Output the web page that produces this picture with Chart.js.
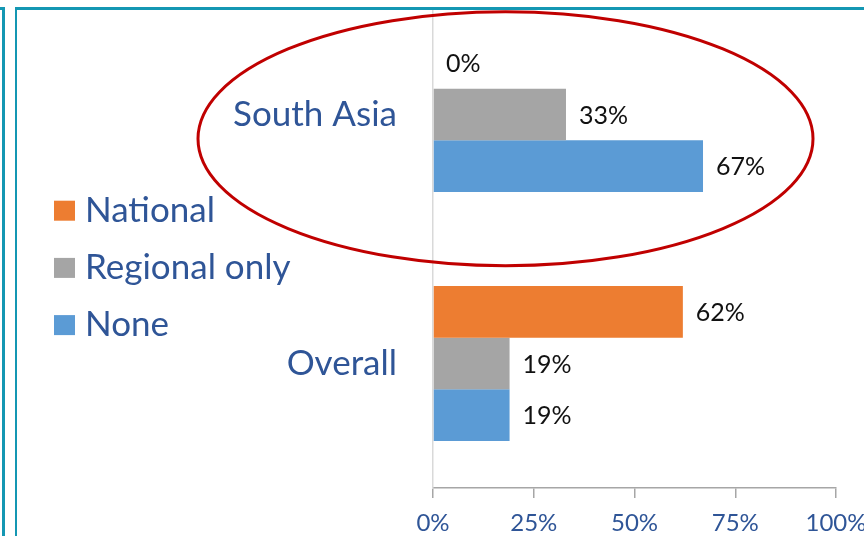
<!DOCTYPE html>
<html><head><meta charset="utf-8">
<script src="https://cdn.jsdelivr.net/npm/chart.js@4/dist/chart.umd.min.js"></script>
<style>
html,body{margin:0;padding:0;background:#fff;overflow:hidden;width:864px;height:536px;position:relative;}
#wrap{position:absolute;left:0;top:-20px;width:864px;height:556px;}
.cover{position:absolute;left:0;top:0;width:864px;height:8px;background:#fff;}
.frameA{position:absolute;left:-20px;top:7px;width:22px;height:600px;border-top:3px solid #1497B3;border-right:3px solid #1497B3;}
.frameB{position:absolute;left:15px;top:7px;width:900px;height:600px;border-top:3px solid #1497B3;border-left:2.5px solid #1497B3;}
</style></head>
<body>
<div id="wrap"><canvas id="c" width="864" height="556"></canvas></div>
<div class="cover"></div>
<div class="frameA"></div>
<div class="frameB"></div>
<script>
const categories = ['South Asia', 'Overall'];
const seriesNames = ['National', 'Regional only', 'None'];
const national = [0, 62];
const regionalOnly = [33, 19];
const none = [67, 19];
const xTickValues = [0, 25, 50, 75, 100];

const seriesColors = ['#ED7D31', '#A5A5A5', '#5B9BD5'];
const textBlue = '#2F5597';
const FONT = 'Lato';

const valueLabels = {
  id: 'valueLabels',
  afterDatasetsDraw(chart) {
    const ctx = chart.ctx;
    ctx.save();
    ctx.font = '25px ' + FONT;
    ctx.fillStyle = '#111';
    ctx.textBaseline = 'middle';
    ctx.textAlign = 'left';
    chart.data.datasets.forEach((ds, i) => {
      const meta = chart.getDatasetMeta(i);
      meta.data.forEach((el, j) => {
        ctx.fillText(ds.data[j] + '%', el.x + 13, el.y + 1);
      });
    });
    ctx.restore();
  }
};

const sideLegend = {
  id: 'sideLegend',
  afterDraw(chart) {
    const ctx = chart.ctx;
    ctx.save();
    chart.data.datasets.forEach((ds, i) => {
      const top = 220.7 + i * 57.2;
      ctx.fillStyle = ds.backgroundColor;
      ctx.fillRect(54, top, 21, 20);
      ctx.fillStyle = textBlue;
      ctx.font = '35px ' + FONT;
      ctx.textBaseline = 'alphabetic';
      ctx.fillText(ds.label, 85, top + 21);
    });
    ctx.restore();
  }
};

const highlight = {
  id: 'highlight',
  afterDraw(chart) {
    const ctx = chart.ctx;
    ctx.save();
    ctx.strokeStyle = '#C00000';
    ctx.lineWidth = 3;
    ctx.beginPath();
    ctx.ellipse(505.5, 158.75, 307.5, 127, 0, 0, Math.PI * 2);
    ctx.stroke();
    ctx.restore();
  }
};

function draw() {
  new Chart(document.getElementById('c'), {
    type: 'bar',
    data: {
      labels: categories,
      datasets: [
        { label: seriesNames[0], data: national, backgroundColor: seriesColors[0] },
        { label: seriesNames[1], data: regionalOnly, backgroundColor: seriesColors[1] },
        { label: seriesNames[2], data: none, backgroundColor: seriesColors[2] }
      ].map(d => Object.assign(d, { categoryPercentage: 0.623, barPercentage: 1.0, borderWidth: 0 }))
    },
    options: {
      indexAxis: 'y',
      responsive: false,
      animation: false,
      devicePixelRatio: 1,
      layout: { padding: { top: 10, right: 28, left: 0, bottom: 0 } },
      plugins: { legend: { display: false }, tooltip: { enabled: false } },
      scales: {
        x: {
          type: 'linear', min: 0, max: 100,
          afterBuildTicks(s) { s.ticks = xTickValues.map(v => ({ value: v })); },
          ticks: { callback: v => v + '%', font: { family: FONT, size: 24 }, color: textBlue, padding: 11, maxRotation: 0, autoSkip: false },
          grid: { display: true, drawOnChartArea: false, drawTicks: true, tickLength: 10, color: '#A6A6A6', lineWidth: 1.5 },
          border: { display: true, color: '#A6A6A6', width: 1.5 },
          afterFit(s) { s.height = 48; s.paddingLeft = 0; s.paddingRight = 0; }
        },
        y: {
          type: 'category',
          ticks: { font: { family: FONT, size: 35 }, color: textBlue, padding: 36 },
          grid: { display: true, drawOnChartArea: false, drawTicks: false },
          border: { display: true, color: '#D9D9D9', width: 1.5 },
          afterFit(s) { s.width = 433; s.paddingTop = 0; s.paddingBottom = 0; }
        }
      }
    },
    plugins: [valueLabels, sideLegend, highlight]
  });
}
if (document.fonts && document.fonts.load) {
  Promise.all([document.fonts.load('24px Lato'), document.fonts.load('35px Lato')]).then(draw, draw);
} else { draw(); }
</script>
</body></html>
